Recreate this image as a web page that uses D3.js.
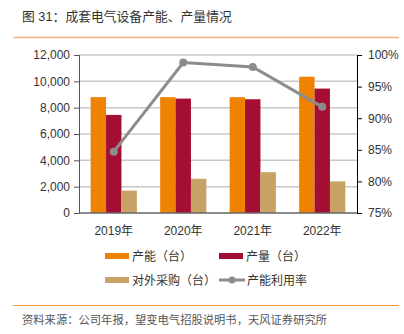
<!DOCTYPE html>
<html>
<head>
<meta charset="utf-8">
<script src="https://cdn.jsdelivr.net/npm/d3@7"></script>
<style>
  body { margin: 0; background: #fff; }
  svg { display: block; font-family: "Liberation Sans", Arial, "Noto Sans CJK SC", sans-serif; }
</style>
</head>
<body>
<div class="canvas"></div>
<script>
var years = ["2019年", "2020年", "2021年", "2022年"];
var capacity = [8800, 8800, 8800, 10350];
var output = [7450, 8690, 8640, 9450];
var purchase = [1700, 2600, 3100, 2400];
var utilization = [84.7, 98.8, 98.1, 91.8];
var leftTicks = [0, 2000, 4000, 6000, 8000, 10000, 12000];
var rightTicks = [75, 80, 85, 90, 95, 100];

var W = 404, H = 334;
var margin = {top: 55, right: 47, bottom: 121, left: 79},
    width = W - margin.left - margin.right,
    height = H - margin.top - margin.bottom;

var svg = d3.select(".canvas").append("svg")
    .attr("width", W)
    .attr("height", H);

// title + rules
svg.append("text")
    .attr("x", 22).attr("y", 21)
    .style("font-size", "12.8px")
    .style("fill", "#333")
    .text("图 31：成套电气设备产能、产量情况");
svg.append("line")
    .attr("x1", 13).attr("x2", 399).attr("y1", 37.5).attr("y2", 37.5)
    .style("stroke", "#f7b27a").style("stroke-width", 1.5);
svg.append("line")
    .attr("x1", 13).attr("x2", 399).attr("y1", 305.5).attr("y2", 305.5)
    .style("stroke", "#f59a3c").style("stroke-width", 1);
svg.append("text")
    .attr("x", 22).attr("y", 324)
    .style("font-size", "11.3px")
    .style("fill", "#555")
    .text("资料来源：公司年报，望变电气招股说明书，天风证券研究所");

var g = svg.append("g")
    .attr("transform", "translate(" + margin.left + "," + margin.top + ")");

var x = d3.scaleBand().domain(years).range([0, width]).paddingInner(0).paddingOuter(0);
var y = d3.scaleLinear().domain([0, 12000]).range([height, 0]);
var y2 = d3.scaleLinear().domain([75, 100]).range([height, 0]);

// gridlines
g.selectAll(".grid").data(leftTicks.slice(1))
  .enter().append("line")
    .attr("class", "grid")
    .attr("x1", 0).attr("x2", width)
    .attr("y1", function(d) { return y(d); })
    .attr("y2", function(d) { return y(d); })
    .style("stroke", "#c8c8c8").style("stroke-width", 1.5);

var series = [
  {name: "产能（台）", values: capacity, color: "#ef8200"},
  {name: "产量（台）", values: output, color: "#a50e33"},
  {name: "对外采购（台）", values: purchase, color: "#c8a165"}
];
var barW = 15.4;
var groupOff = (x.bandwidth() - barW * 3) / 2;

series.forEach(function(s, si) {
  g.selectAll(".bar" + si).data(s.values)
    .enter().append("rect")
      .attr("class", "bar" + si)
      .attr("x", function(d, i) { return x(years[i]) + groupOff + si * barW; })
      .attr("y", function(d) { return y(d); })
      .attr("width", barW)
      .attr("height", function(d) { return height - y(d); })
      .style("fill", s.color);
});

// axes
var leftAxis = g.append("g")
    .call(d3.axisLeft(y).tickValues(leftTicks).tickSize(5).tickPadding(4)
      .tickFormat(d3.format(",")));
leftAxis.select(".domain").style("stroke", "#555");
leftAxis.selectAll(".tick line").style("stroke", "#555");
leftAxis.selectAll("text").style("font-size", "12px").style("fill", "#333")
    .style("font-family", "Liberation Sans, Arial, sans-serif");

var rightAxis = g.append("g")
    .attr("transform", "translate(" + width + ",0)")
    .call(d3.axisRight(y2).tickValues(rightTicks).tickSize(5).tickPadding(6)
      .tickFormat(function(d) { return d + "%"; }));
rightAxis.select(".domain").style("stroke", "#000");
rightAxis.selectAll(".tick line").style("stroke", "#000");
rightAxis.selectAll("text").style("font-size", "12px").style("fill", "#333")
    .style("font-family", "Liberation Sans, Arial, sans-serif");

g.append("line")
    .attr("x1", 0).attr("x2", width).attr("y1", height).attr("y2", height)
    .style("stroke", "#666").style("stroke-width", 1.5);

g.selectAll(".xlab").data(years)
  .enter().append("text")
    .attr("class", "xlab")
    .attr("x", function(d) { return x(d) + x.bandwidth() / 2; })
    .attr("y", height + 22)
    .attr("text-anchor", "middle")
    .style("font-size", "12px").style("fill", "#333")
    .text(function(d) { return d; });

// utilization line
var line = d3.line()
    .x(function(d, i) { return x(years[i]) + x.bandwidth() / 2; })
    .y(function(d) { return y2(d); });
g.append("path")
    .datum(utilization)
    .attr("d", line)
    .style("fill", "none")
    .style("stroke", "#8c8c8c")
    .style("stroke-width", 3);
g.selectAll(".dot").data(utilization)
  .enter().append("circle")
    .attr("class", "dot")
    .attr("cx", function(d, i) { return x(years[i]) + x.bandwidth() / 2; })
    .attr("cy", function(d) { return y2(d); })
    .attr("r", 4)
    .style("fill", "#8c8c8c");

// legend
var legendItems = [
  {name: series[0].name, color: series[0].color, type: "bar", x: 105, y: 256},
  {name: series[1].name, color: series[1].color, type: "bar", x: 219, y: 256},
  {name: series[2].name, color: series[2].color, type: "bar", x: 105, y: 280},
  {name: "产能利用率", color: "#8c8c8c", type: "line", x: 219, y: 280}
];
legendItems.forEach(function(it) {
  if (it.type === "bar") {
    svg.append("rect")
        .attr("x", it.x).attr("y", it.y - 3)
        .attr("width", 24).attr("height", 6)
        .style("fill", it.color);
  } else {
    svg.append("line")
        .attr("x1", it.x).attr("x2", it.x + 26).attr("y1", it.y).attr("y2", it.y)
        .style("stroke", it.color).style("stroke-width", 3);
    svg.append("circle")
        .attr("cx", it.x + 13).attr("cy", it.y).attr("r", 3.5)
        .style("fill", it.color);
  }
  svg.append("text")
      .attr("x", it.type === "bar" ? it.x + 27 : it.x + 28)
      .attr("y", it.y + 4.5)
      .style("font-size", "12px").style("fill", "#333")
      .text(it.name);
});
</script>
</body>
</html>
